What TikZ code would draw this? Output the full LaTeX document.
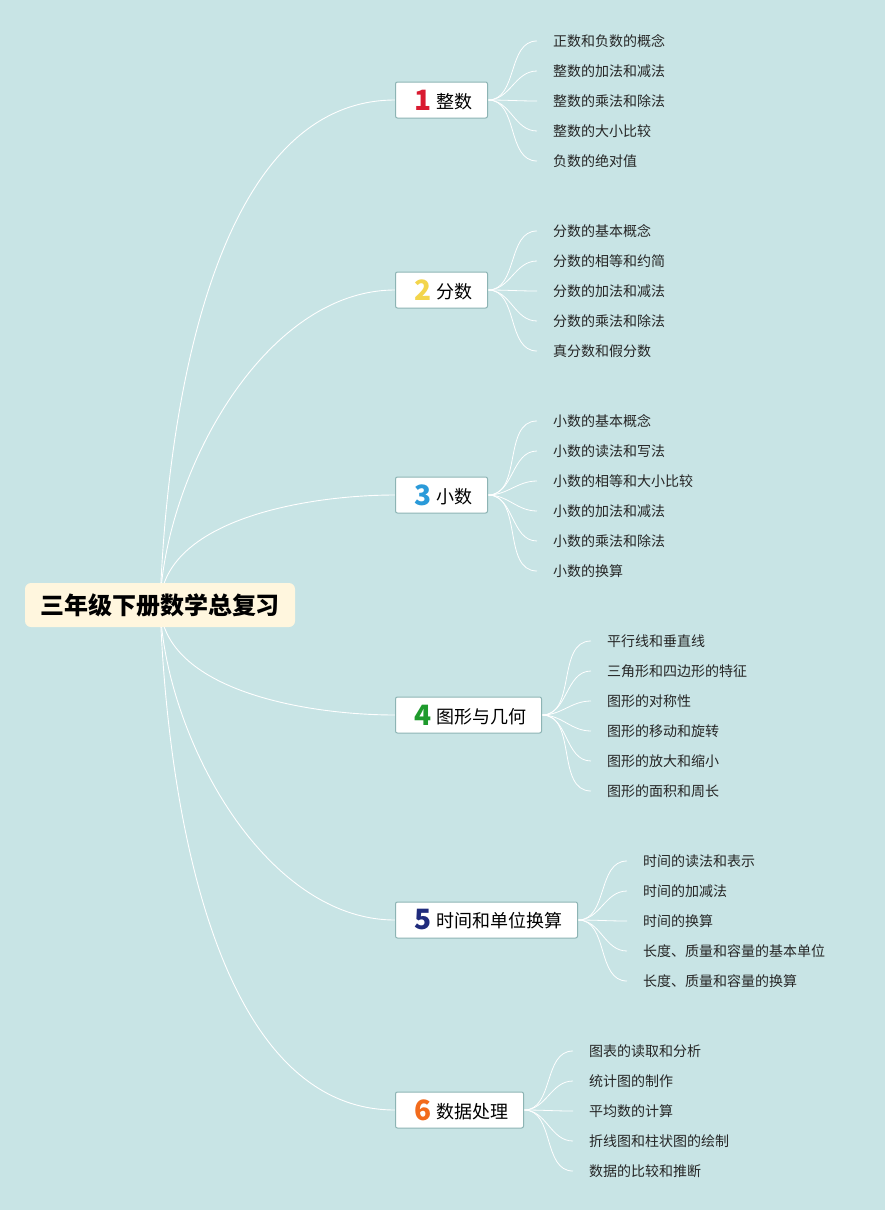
\documentclass[tikz,border=0pt]{standalone}
\usepackage{fontspec}
\setmainfont{Noto Sans CJK SC}
\usepackage{xcolor}
\usetikzlibrary{positioning}

\definecolor{canvasbg}{HTML}{C8E4E5}
\definecolor{rootfill}{HTML}{FFF6DE}
\definecolor{topicline}{HTML}{8DB4B4}
\definecolor{leaftext}{HTML}{262626}
\definecolor{numone}{HTML}{D91A30}
\definecolor{numtwo}{HTML}{F3D54B}
\definecolor{numthree}{HTML}{2A9AD9}
\definecolor{numfour}{HTML}{1E9A2C}
\definecolor{numfive}{HTML}{1F2B7C}
\definecolor{numsix}{HTML}{F26B1C}

\pgfdeclarelayer{canvas}
\pgfdeclarelayer{edges}
\pgfsetlayers{canvas,edges,main}

\newcommand{\topicnum}[2]{\hspace{4pt}\textcolor{#1}{\raisebox{-2pt}{\fontsize{28}{28}\selectfont\bfseries #2}}\hspace{5pt}}

\begin{document}
\begin{tikzpicture}[
    x=1pt, y=-1pt,
    root/.style={rectangle, rounded corners=6pt, fill=rootfill, minimum width=270pt, minimum height=44pt, inner sep=0pt, font=\fontsize{24}{26}\selectfont\bfseries},
    topic/.style={rectangle, rounded corners=2pt, draw=topicline, fill=white, line width=1pt, minimum height=36pt, inner xsep=15pt, inner ysep=0pt, anchor=west, font=\fontsize{18}{20}\selectfont},
    leaf/.style={anchor=west, inner xsep=16pt, inner ysep=0pt, text=leaftext, font=\fontsize{14}{16}\selectfont},
    trunk/.style={draw=white, line width=0.9pt, looseness=0.85},
    twig/.style={draw=white, line width=0.8pt}
]
\path[use as bounding box] (0,0) rectangle (885,1210);
\begin{pgfonlayer}{canvas}
\fill[canvasbg] (0,0) rectangle (885,1210);
\end{pgfonlayer}

% root and topics
\node[root] (review) at (160,605) {三年级下册数学总复习};
\node[topic] (t1) at (395,100) {\topicnum{numone}{1}整数};
\node[topic] (t2) at (395,290) {\topicnum{numtwo}{2}分数};
\node[topic] (t3) at (395,495) {\topicnum{numthree}{3}小数};
\node[topic] (t4) at (395,715) {\topicnum{numfour}{4}图形与几何};
\node[topic] (t5) at (395,920) {\topicnum{numfive}{5}时间和单位换算};
\node[topic] (t6) at (395,1110) {\topicnum{numsix}{6}数据处理};

% leaves
\foreach \txt [count=\i] in {正数和负数的概念, 整数的加法和减法, 整数的乘法和除法, 整数的大小比较, 负数的绝对值}
  \node[leaf] (a\i) at (537,11+30*\i) {\txt};
\foreach \txt [count=\i] in {分数的基本概念, 分数的相等和约简, 分数的加法和减法, 分数的乘法和除法, 真分数和假分数}
  \node[leaf] (b\i) at (537,201+30*\i) {\txt};
\foreach \txt [count=\i] in {小数的基本概念, 小数的读法和写法, 小数的相等和大小比较, 小数的加法和减法, 小数的乘法和除法, 小数的换算}
  \node[leaf] (c\i) at (537,391+30*\i) {\txt};
\foreach \txt [count=\i] in {平行线和垂直线, 三角形和四边形的特征, 图形的对称性, 图形的移动和旋转, 图形的放大和缩小, 图形的面积和周长}
  \node[leaf] (d\i) at (591,611+30*\i) {\txt};
\foreach \txt [count=\i] in {时间的读法和表示, 时间的加减法, 时间的换算, 长度、质量和容量的基本单位, 长度、质量和容量的换算}
  \node[leaf] (e\i) at (627,831+30*\i) {\txt};
\foreach \txt [count=\i] in {图表的读取和分析, 统计图的制作, 平均数的计算, 折线图和柱状图的绘制, 数据的比较和推断}
  \node[leaf] (f\i) at (573,1021+30*\i) {\txt};

% connectors
\begin{pgfonlayer}{edges}
\foreach \t in {t1,t2,t3}
  \draw[trunk] (review.center) to[out=88, in=180] (\t.west);
\foreach \t in {t4,t5,t6}
  \draw[trunk] (review.center) to[out=-88, in=180] (\t.west);
\foreach \i in {1,...,5} \draw[twig] (t1.east) to[out=0, in=180] (a\i.west);
\foreach \i in {1,...,5} \draw[twig] (t2.east) to[out=0, in=180] (b\i.west);
\foreach \i in {1,...,6} \draw[twig] (t3.east) to[out=0, in=180] (c\i.west);
\foreach \i in {1,...,6} \draw[twig] (t4.east) to[out=0, in=180] (d\i.west);
\foreach \i in {1,...,5} \draw[twig] (t5.east) to[out=0, in=180] (e\i.west);
\foreach \i in {1,...,5} \draw[twig] (t6.east) to[out=0, in=180] (f\i.west);
\end{pgfonlayer}
\end{tikzpicture}
\end{document}
